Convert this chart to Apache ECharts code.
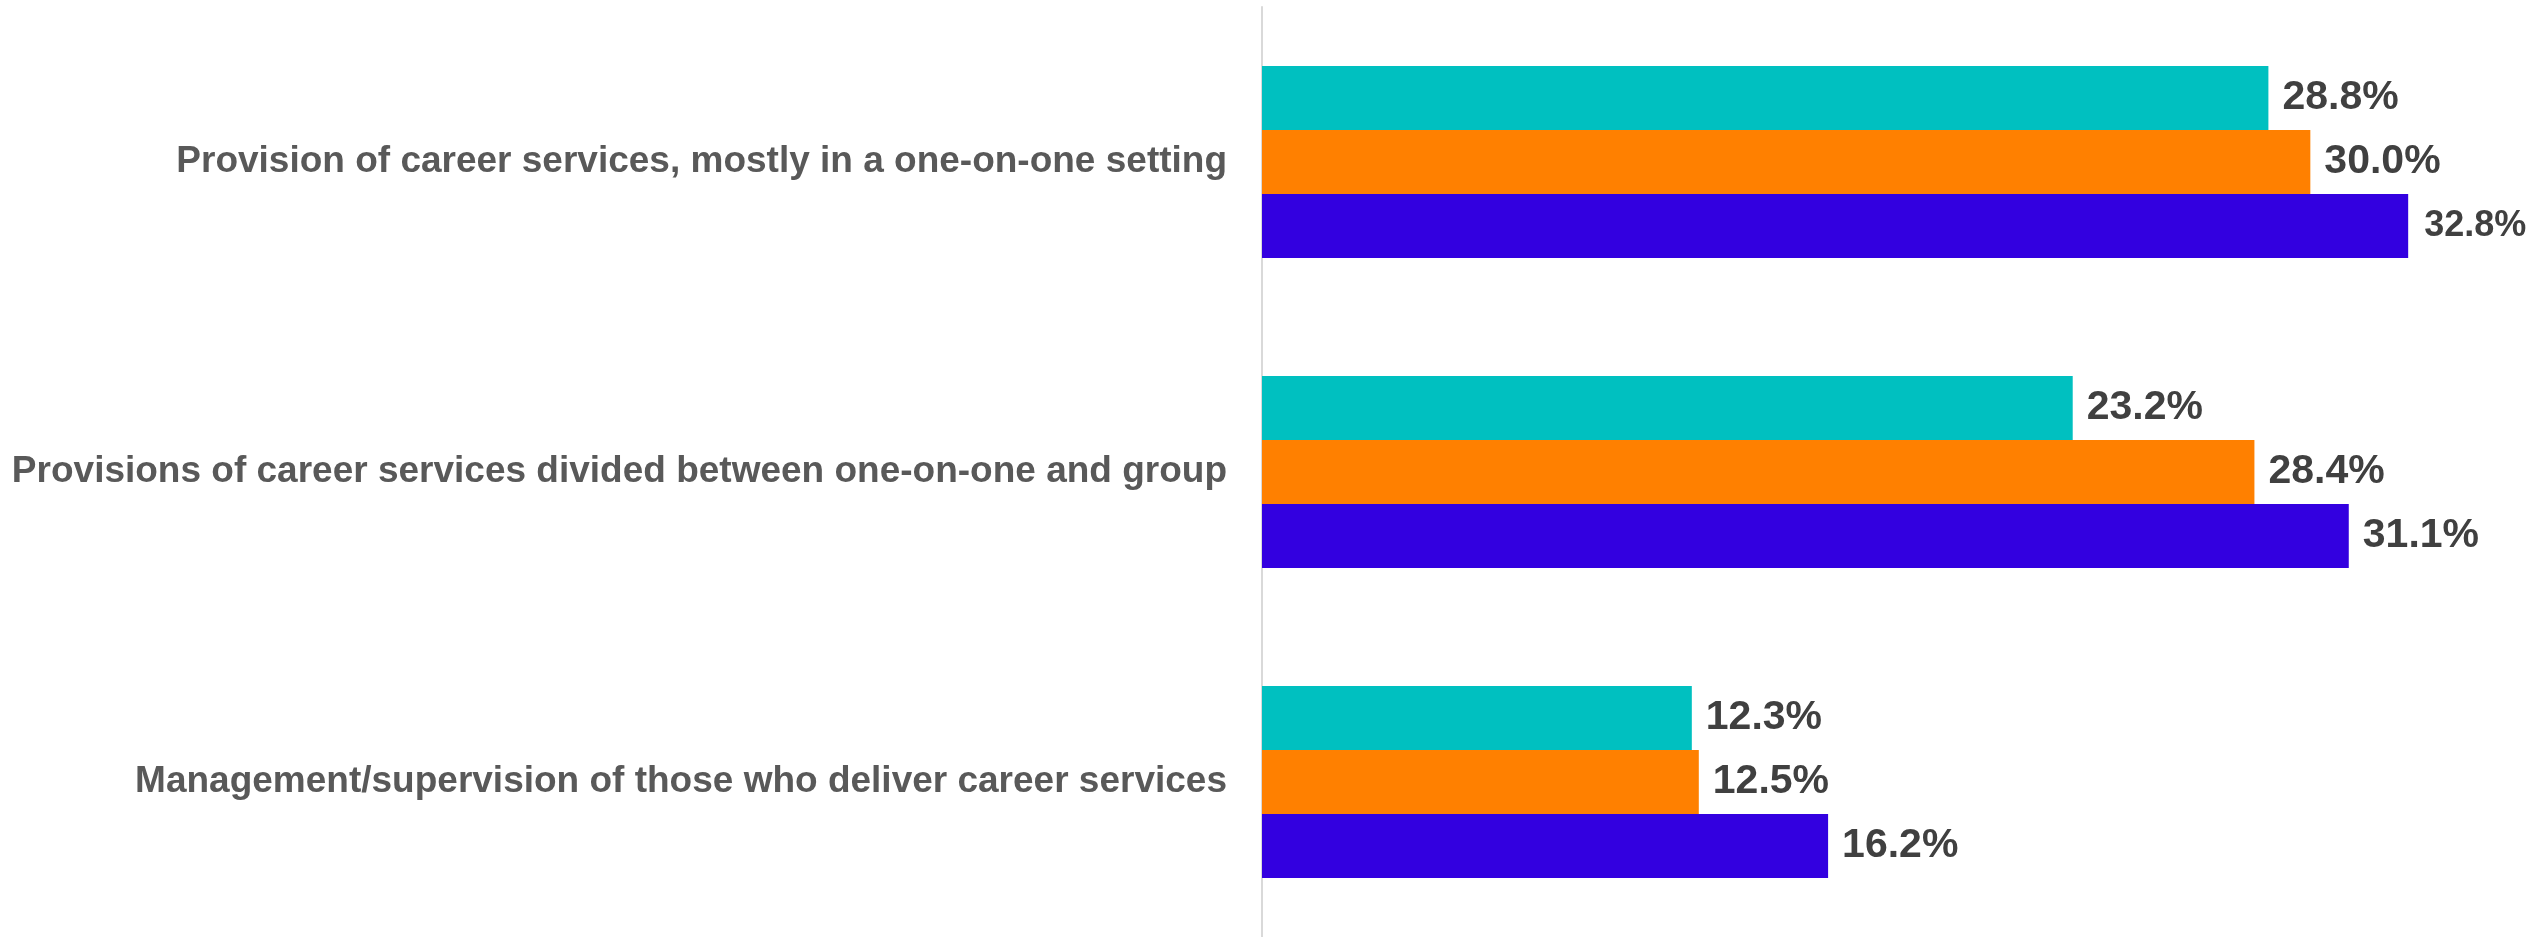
<!DOCTYPE html>
<html>
<head>
<meta charset="utf-8">
<script src="https://cdn.jsdelivr.net/npm/echarts@6/dist/echarts.min.js"></script>
<style>
  html, body { margin: 0; padding: 0; background: #ffffff; }
  #chart { width: 2542px; height: 937px; }
</style>
</head>
<body>
<div id="chart"></div>
<script>
// Role categories, top to bottom
const categories = [
  'Provision of career services, mostly in a one-on-one setting',
  'Provisions of career services divided between one-on-one and group',
  'Management/supervision of those who deliver career services'
];

// Percentages per series (one value per category)
const seriesTeal   = [28.8, 23.2, 12.3];
const seriesOrange = [30.0, 28.4, 12.5];
const seriesBlue   = [32.8, 31.1, 16.2];

const colors = ['#00C0C0', '#FF8000', '#3300E0'];
const seriesData = [seriesTeal, seriesOrange, seriesBlue];

const chart = echarts.init(document.getElementById('chart'), null, { renderer: 'canvas' });

const labelStyle = {
  show: true,
  position: 'right',
  distance: 14,
  fontFamily: 'Liberation Sans, Arial, sans-serif',
  fontWeight: 'bold',
  fontSize: 41,
  color: '#404040',
  formatter: p => p.value.toFixed(1) + '%'
};

// The longest bar's label sits against the right edge, so it is set a little smaller
const xMax = 36;
function toItems(values) {
  return values.map(v => v > 32 ? { value: v, label: { fontSize: 36, distance: 16 } } : v);
}

chart.setOption({
  animation: false,
  backgroundColor: '#ffffff',
  grid: { left: 1262, top: 7, width: 1258, height: 930, containLabel: false },
  xAxis: {
    type: 'value',
    min: 0,
    max: xMax,
    show: false,
    splitLine: { show: false }
  },
  yAxis: {
    type: 'category',
    data: categories,
    inverse: true,
    axisLine: { show: true, lineStyle: { color: '#d9d9d9', width: 2 } },
    axisTick: { show: false },
    axisLabel: {
      margin: 35,
      fontFamily: 'Liberation Sans, Arial, sans-serif',
      fontWeight: 'bold',
      fontSize: 37,
      color: '#595959'
    }
  },
  series: seriesData.map((d, i) => ({
    type: 'bar',
    data: toItems(d),
    barWidth: 64,
    barGap: '0%',
    itemStyle: { color: colors[i] },
    label: labelStyle
  }))
});
</script>
</body>
</html>
